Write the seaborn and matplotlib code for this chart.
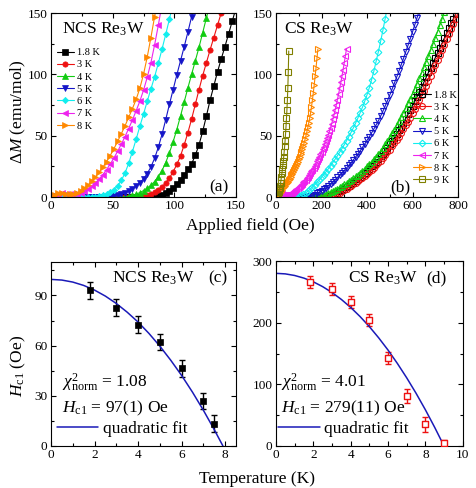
import matplotlib
matplotlib.use("Agg")
import matplotlib.pyplot as plt
import seaborn as sns
from matplotlib.ticker import MultipleLocator

sns.set_style("ticks")
plt.rcParams['font.family'] = ['Liberation Serif', 'DejaVu Serif']
plt.rcParams['mathtext.fontset'] = 'custom'
plt.rcParams['mathtext.rm'] = 'Liberation Serif'
plt.rcParams['mathtext.it'] = 'Liberation Serif:italic'
plt.rcParams['mathtext.bf'] = 'Liberation Serif:bold'
for k in ['text.color', 'axes.labelcolor', 'xtick.color', 'ytick.color', 'axes.edgecolor']:
    plt.rcParams[k] = 'black'

# ---------------- panel (a): NCS Re3W, dM vs H (step 3 Oe) ----------------
H_a = [0, 3, 6, 9, 12, 15, 18, 21, 24, 27, 30, 33, 36, 39, 42, 45, 48, 51, 54, 57,
       60, 63, 66, 69, 72, 75, 78, 81, 84, 87, 90, 93, 96, 99, 102, 105, 108, 111,
       114, 117, 120, 123, 126, 129, 132, 135, 138, 141, 144, 147, 150]
labels_a = ["1.8 K", "3 K", "4 K", "5 K", "6 K", "7 K", "8 K"]
M_a_18 = [0, 0.3, 0.6, 0.5, 0.3, 0.2, 0.1, 0.1,
          0, 0, 0, 0, 0, 0, 0, 0, 0, 0,
          0, 0, 0, 0, 0, 0, 0, 0, 0, 0,
          0.2, 0.8, 1.8, 3.2, 5.0, 7.5, 10.5, 14.0, 18.0, 22.5, 27.0, 34.0, 42.5,
          53.5, 66.0, 79.0, 90.5, 102.0, 112.5, 122.5, 133.0, 143.5, 154.0]
M_a_3 = [0, 0.4, 0.8, 0.7, 0.5, 0.3, 0.2, 0.1,
         0, 0, 0, 0, 0, 0, 0, 0, 0, 0, 0, 0, 0, 0, 0, 0,
         0.2, 0.7, 1.5, 2.7, 4.2, 6.0, 8.3, 11.5, 15.5, 20.5, 26.5, 33.5, 42.5, 52.5,
         63.5, 75.5, 87.5, 99.0, 109.5, 120.0, 130.0, 140.0, 150.0, 160.0]
M_a_4 = [0, 0.5, 1.0, 0.9, 0.6, 0.4, 0.3, 0.2,
         0, 0, 0, 0, 0, 0, 0, 0, 0, 0, 0, 0,
         0.2, 0.6, 1.3, 2.3, 3.6, 5.2, 7.2, 9.6, 12.6, 16.5, 21.5, 28.0, 36.0, 45.0,
         55.0, 66.0, 77.5, 89.0, 100.0, 111.0, 122.0, 134.0, 146.0, 158.0]
M_a_5 = [0, 0.6, 1.2, 1.1, 0.8, 0.5, 0.4, 0.3,
         0.2, 0.2, 0.1, 0.1, 0.1, 0.1, 0.1, 0.1,
         0.2, 0.6, 1.3, 2.3, 3.5, 5.0, 6.8, 8.9, 11.5, 14.8, 19.0, 24.5, 31.5, 40.5,
         51.0, 63.0, 75.5, 87.5, 99.5, 111.0, 122.5, 134.5, 147.0, 159.0]
M_a_6 = [0, 0.8, 1.5, 1.6, 1.3, 1.0, 0.8, 0.6, 0.5, 0.4, 0.3, 0.3,
         0.3, 0.8, 1.5, 2.5, 4.0, 6.0, 9.0, 13.5, 19.5, 27.5, 37.0, 47.0, 57.5,
         67.5, 78.0, 88.0, 98.0, 109.0, 120.5, 132.5, 145.0, 158.0]
M_a_7 = [0, 1.0, 2.5, 3.0, 2.8, 2.4, 2.2, 2.4, 3.2, 4.5, 6.3, 8.6, 11.3, 14.5, 18.2,
         22.3, 26.8, 31.8, 37.2, 43.0, 49.2, 55.8, 62.8, 70.2, 78.0, 87.0, 97.5,
         109.5, 124.0, 140.0, 157.0]
M_a_8 = [0, 1.5, 3.0, 3.2, 2.8, 2.6, 2.8, 3.5, 5.0, 7.2, 9.8, 12.8, 16.2, 20.0, 24.2,
         28.8, 33.8, 39.3, 45.3, 51.5, 58.0, 65.0, 72.0, 79.5, 88.5, 100.0, 114.0,
         130.0, 147.0, 165.0]

# ---------------- panel (b): CS Re3W ----------------
H_b10 = [0, 10, 20, 30, 40, 50, 60, 70, 80, 90, 100, 110, 120, 130, 140, 150, 160,
         170, 180, 190, 200, 210, 220, 230, 240, 250, 260, 270, 280, 290, 300, 310,
         320, 330, 340, 350, 360, 370, 380, 390, 400, 410, 420, 430, 440, 450, 460,
         470, 480, 490, 500, 510, 520, 530, 540, 550, 560, 570, 580, 590, 600, 610,
         620, 630, 640, 650, 660, 670, 680, 690, 700, 710, 720, 730, 740, 750, 760,
         770, 780, 790, 800]
H_b5 = [0, 5, 10, 15, 20, 25, 30, 35, 40, 45, 50, 55, 60, 65, 70, 75, 80, 85, 90, 95,
        100, 105, 110, 115, 120, 125, 130, 135, 140, 145, 150, 155, 160, 165, 170,
        175, 180, 185, 190, 195, 200, 205, 210, 215, 220, 225, 230, 235, 240, 245,
        250, 255, 260, 265, 270, 275, 280, 285, 290, 295, 300, 305, 310]
H_b4 = [0, 4, 8, 12, 16, 20, 24, 28, 32, 36, 40, 44, 48, 52, 56, 60, 64, 68, 72, 76,
        80, 84, 88, 92, 96, 100, 104, 108, 112, 116, 120, 124, 128, 132, 136, 140,
        144, 148, 152, 156, 160, 164, 168, 172, 176, 180, 184]
H_b2 = [0, 2, 4, 6, 8, 10, 12, 14, 16, 18, 20, 22, 24, 26, 28, 30, 32, 34, 36, 38,
        40, 42, 44, 46, 48, 50, 52, 54, 56]
labels_b = ["1.8 K", "3 K", "4 K", "5 K", "6 K", "7 K", "8 K", "9 K"]
M_b_18 = [0, 0, 0, 0, 0, 0, 0, 0, 0, 0, 0, 0, 0, 0, 0, 0, 0, 0, 0, 0, 0, 0,
          0.2, 0.6, 1.2, 1.9, 2.7, 3.6, 4.6, 5.6, 6.7, 7.9,
          9.1, 10.4, 11.8, 13.2, 14.7, 16.2, 17.8, 19.5, 21.2, 23.0,
          24.9, 26.8, 28.8, 30.9, 33.1, 35.4, 37.8, 40.3, 42.9, 45.6,
          48.4, 51.3, 54.3, 57.4, 60.6, 63.9, 67.3, 70.8, 74.4, 78.0,
          81.7, 85.4, 89.4, 93.5, 97.5, 101.5, 105.5, 109.5, 113.5, 117.5,
          121.5, 125.5, 129.5, 133.5, 137.5, 141.5, 145.5, 149.5, 153.5]
M_b_3 = [0, 0, 0, 0, 0, 0, 0, 0, 0, 0, 0, 0, 0, 0, 0, 0, 0, 0, 0, 0, 0, 0, 0,
         0.2, 0.5, 1.1, 1.8, 2.6, 3.5, 4.5, 5.5, 6.6, 7.8,
         9.0, 10.2, 11.5, 12.9, 14.3, 15.8, 17.3, 18.9, 20.5, 22.2,
         24.0, 25.8, 27.7, 29.7, 31.8, 34.0, 36.3, 38.7, 41.2, 43.8,
         46.5, 49.3, 52.2, 55.2, 58.3, 61.5, 64.8, 68.2, 71.7, 75.3,
         79.0, 82.8, 86.7, 90.7, 94.8, 99.0, 103.2, 107.4, 111.6, 115.8,
         120.0, 124.2, 128.4, 132.6, 136.8, 141.0, 145.2, 149.4]
M_b_4 = [0, 0, 0, 0, 0, 0, 0, 0, 0, 0, 0, 0, 0, 0, 0, 0, 0,
         0.2, 0.5, 0.9, 1.4, 2.0, 2.7, 3.4, 4.2, 5.0, 5.9,
         6.9, 7.9, 9.0, 10.2, 11.4, 12.7, 14.0, 15.4, 16.8, 18.3,
         19.9, 21.5, 23.2, 24.9, 26.7, 28.6, 30.6, 32.7, 34.9, 37.3,
         40.0, 42.8, 45.7, 48.7, 51.8, 55.0, 58.3, 61.7, 65.2, 68.8,
         72.5, 76.3, 80.2, 84.2, 88.3, 92.5, 96.8, 101.2, 105.7, 110.3,
         115.0, 119.8, 124.7, 129.7, 134.8, 140.0, 145.3, 150.7, 156.0]
M_b_5 = [0, 0, 0, 0, 0, 0, 0, 0, 0, 0, 0, 0, 0, 0,
         0.2, 0.6, 1.2, 2.0, 2.9, 3.9, 5.0, 6.3, 7.7, 9.2,
         10.8, 12.4, 14.1, 15.9, 17.7, 19.6, 21.6, 23.6, 25.7, 27.9,
         30.2, 32.6, 35.1, 37.7, 40.4, 43.2, 46.1, 49.1, 52.2, 55.4,
         58.7, 62.1, 66.0, 70.0, 74.2, 78.6, 83.1, 87.8, 92.6, 97.5,
         102.5, 107.6, 112.8, 118.1, 123.5, 129.0, 134.6, 140.3, 146.1, 152.0]
M_b_6 = [0, 0, 0, 0, 0, 0, 0, 0, 0,
         0.2, 0.6, 1.3, 2.2, 3.3, 4.7, 6.3, 8.1, 10.0, 12.0,
         14.0, 16.1, 18.3, 20.6, 23.0, 25.5, 28.1, 30.8, 33.6, 36.5,
         39.5, 42.6, 45.8, 49.2, 52.7, 56.4, 60.3, 64.4, 68.7, 73.2,
         78.0, 83.2, 89.0, 95.5, 102.5, 110.5, 118.5, 127.0, 136.0, 145.5,
         155.5]
M_b_7 = [0, 1.0, 2.0, 2.5, 2.5, 2.2, 1.8, 1.5, 1.4, 1.5,
         1.7, 2.0, 2.4, 2.9, 3.4, 4.0, 4.7, 5.4, 6.2, 7.0,
         7.9, 8.8, 9.8, 10.8, 11.9, 13.0, 14.2, 15.4, 16.7, 18.0,
         19.4, 20.9, 22.4, 24.0, 25.6, 27.3, 29.1, 30.9, 32.8, 34.8,
         36.8, 38.9, 41.1, 43.4, 45.7, 48.1, 50.6, 53.5, 56.6, 59.9,
         63.4, 67.1, 71.0, 75.1, 79.4, 83.9, 88.6, 93.5, 98.6, 103.9,
         109.4, 115.1, 121.0]
M_b_8 = [0, 1.0, 2.0, 2.8, 3.5, 4.3, 5.1, 6.0, 7.0, 8.0,
         9.1, 10.2, 11.3, 12.5, 13.7, 15.0, 16.3, 17.7, 19.1, 20.6,
         22.1, 23.7, 25.3, 27.0, 28.8, 30.7, 32.7, 34.8, 37.0, 39.3,
         41.8, 44.4, 47.2, 50.2, 53.4, 56.8, 60.5, 64.4, 68.6, 73.5,
         79.0, 85.0, 91.5, 98.5, 105.5, 113.0, 120.5]
M_b_9 = [0, 0.4, 0.9, 1.4, 2.0, 2.8, 3.9, 5.3, 7.0, 9.0,
         11.3, 13.8, 16.5, 19.4, 22.5, 25.8, 29.3, 33.0, 37.0, 41.3,
         46.0, 51.5, 57.5, 64.0, 71.0, 79.0, 89.0, 102.0, 119.0]

# ---------------- panel (c): NCS Hc1(T) ----------------
T_c = [1.8, 3, 4, 5, 6, 7, 7.5]
Hc1_c = [93.0, 82.7, 72.5, 62.2, 46.4, 26.9, 13.3]
err_c = [5, 5, 5, 5, 5, 5, 5]
fitT_c = [0, 0.5, 1, 1.5, 2, 2.5, 3, 3.5, 4, 4.5, 5, 5.5, 6, 6.5, 7, 7.5, 7.9]
fitH_c = [99.6, 99.2, 98.0, 96.0, 93.2, 89.6, 85.2, 80.0, 74.1, 67.3, 59.7, 51.3,
          42.2, 32.2, 21.4, 9.8, 0.0]

# ---------------- panel (d): CS Hc1(T) ----------------
T_d = [1.8, 3, 4, 5, 6, 7, 8, 9]
Hc1_d = [266.4, 254.5, 233.9, 204.1, 142.9, 81.2, 35.2, 5.4]
err_d = [10, 10, 10, 10, 10, 12, 12, 5]
fitT_d = [0, 0.5, 1, 1.5, 2, 2.5, 3, 3.5, 4, 4.5, 5, 5.5, 6, 6.5, 7, 7.5, 8, 8.5, 9]
fitH_d = [280.0, 279.1, 276.5, 272.2, 266.2, 258.4, 248.9, 237.7, 224.7, 210.0,
          193.6, 175.4, 155.6, 133.9, 110.6, 85.6, 58.8, 30.2, 0.0]

# ---------------- styling ----------------
RED = "#EE1111"; GREEN = "#11CC11"; BLUE = "#1515C8"; CYAN = "#11EEEE"
MAG = "#EE22EE"; ORANGE = "#FF8800"; OLIVE = "#808000"; FITBLUE = "#1a1ab8"
colors_a = ["black", RED, GREEN, BLUE, CYAN, MAG, ORANGE]
markers_a = ["s", "o", "^", "v", "D", "<", ">"]
colors_b = ["black", RED, GREEN, BLUE, CYAN, MAG, ORANGE, OLIVE]
markers_b = ["s", "o", "^", "v", "D", "<", ">", "s"]

W, Hpx = 476, 488
fig = plt.figure(figsize=(W / 100, Hpx / 100), dpi=100)

def add_ax(l, r, t, b):
    return fig.add_axes([l / W, 1 - b / Hpx, (r - l) / W, (b - t) / Hpx])

axA = add_ax(51, 236, 13, 197)
axB = add_ax(276, 458, 13, 197)
axC = add_ax(51, 236, 262, 446)
axD = add_ax(276, 462.7, 261, 446)

FS_TICK = 9.5
FS_TXT = 12.5

# (a)
Ms_a = [M_a_18, M_a_3, M_a_4, M_a_5, M_a_6, M_a_7, M_a_8]
for lab, M, c, m in zip(labels_a, Ms_a, colors_a, markers_a):
    ms = 3.2 if m == "D" else 3.8
    sns.lineplot(x=H_a[:len(M)], y=M, ax=axA, color=c, marker=m, markersize=ms,
                 mec=c, mfc=c, mew=0.5, lw=0.8, label=lab)
axA.set_xlim(0, 150); axA.set_ylim(0, 150)
axA.xaxis.set_major_locator(MultipleLocator(50)); axA.xaxis.set_minor_locator(MultipleLocator(25))
axA.yaxis.set_major_locator(MultipleLocator(50)); axA.yaxis.set_minor_locator(MultipleLocator(25))
axA.legend(loc="upper left", bbox_to_anchor=(0.03, 0.81), frameon=False, fontsize=7.5,
           handlelength=1.7, handletextpad=0.25, labelspacing=0.28, borderpad=0,
           borderaxespad=0)
axA.text(0.059, 0.913, "NCS Re$_3$W", transform=axA.transAxes, fontsize=FS_TXT,
         ha="left", va="center")
axA.text(0.855, 0.05, "(a)", transform=axA.transAxes, fontsize=FS_TXT, ha="left", va="center")

# (b)
Ms_b = [M_b_18, M_b_3, M_b_4, M_b_5, M_b_6, M_b_7, M_b_8, M_b_9]
grids_b = [H_b10, H_b10, H_b10, H_b10, H_b10, H_b5, H_b4, H_b2]
for lab, G, M, c, m in zip(labels_b, grids_b, Ms_b, colors_b, markers_b):
    ms = 3.4 if m == "D" else 4.2
    sns.lineplot(x=G[:len(M)], y=M, ax=axB, color=c, marker=m, markersize=ms,
                 mec=c, mfc="none", mew=0.8, lw=0.8, label=lab)
axB.set_xlim(0, 800); axB.set_ylim(0, 150)
axB.xaxis.set_major_locator(MultipleLocator(200)); axB.xaxis.set_minor_locator(MultipleLocator(100))
axB.yaxis.set_major_locator(MultipleLocator(50)); axB.yaxis.set_minor_locator(MultipleLocator(25))
axB.legend(loc="upper left", bbox_to_anchor=(0.755, 0.58), frameon=False, fontsize=7.5,
           handlelength=1.7, handletextpad=0.25, labelspacing=0.28, borderpad=0,
           borderaxespad=0)
axB.text(0.044, 0.913, "CS Re$_3$W", transform=axB.transAxes, fontsize=FS_TXT,
         ha="left", va="center")
axB.text(0.626, 0.05, "(b)", transform=axB.transAxes, fontsize=FS_TXT, ha="left", va="center")

# (c)
axC.errorbar(T_c, Hc1_c, yerr=err_c, fmt="none", ecolor="black", elinewidth=1,
             capsize=2, capthick=1, zorder=2)
sns.scatterplot(x=T_c, y=Hc1_c, ax=axC, marker="s", s=20, color="black",
                edgecolor="black", linewidth=0.5, zorder=3)
sns.lineplot(x=fitT_c, y=fitH_c, ax=axC, color=FITBLUE, lw=1.1, label="quadratic fit")
axC.set_xlim(0, 8.5); axC.set_ylim(0, 110)
axC.xaxis.set_major_locator(MultipleLocator(2)); axC.xaxis.set_minor_locator(MultipleLocator(1))
axC.yaxis.set_major_locator(MultipleLocator(30)); axC.yaxis.set_minor_locator(MultipleLocator(15))
axC.legend(loc="center left", bbox_to_anchor=(0.03, 0.092), frameon=False, fontsize=FS_TXT,
           handlelength=2.4, handletextpad=0.25, borderpad=0, borderaxespad=0)
axC.text(0.33, 0.913, "NCS Re$_3$W", transform=axC.transAxes, fontsize=FS_TXT,
         ha="left", va="center")
axC.text(0.849, 0.913, "(c)", transform=axC.transAxes, fontsize=FS_TXT, ha="left", va="center")
axC.text(0.059, 0.35, r"$\chi^{2}_{\mathrm{norm}}$ = 1.08", transform=axC.transAxes,
         fontsize=FS_TXT, ha="left", va="center")
axC.text(0.059, 0.207, r"$H_{\mathrm{c1}}$ = 97(1) Oe", transform=axC.transAxes,
         fontsize=FS_TXT, ha="left", va="center")

# (d)
axD.errorbar(T_d, Hc1_d, yerr=err_d, fmt="none", ecolor=RED, elinewidth=1,
             capsize=2, capthick=1, zorder=2)
sns.scatterplot(x=T_d, y=Hc1_d, ax=axD, marker="s", s=22, facecolor="white",
                edgecolor=RED, linewidth=1, zorder=3)
sns.lineplot(x=fitT_d, y=fitH_d, ax=axD, color=FITBLUE, lw=1.1, label="quadratic fit")
axD.set_xlim(0, 10); axD.set_ylim(0, 300)
axD.xaxis.set_major_locator(MultipleLocator(2)); axD.xaxis.set_minor_locator(MultipleLocator(1))
axD.yaxis.set_major_locator(MultipleLocator(100)); axD.yaxis.set_minor_locator(MultipleLocator(50))
axD.legend(loc="center left", bbox_to_anchor=(0.01, 0.092), frameon=False, fontsize=FS_TXT,
           handlelength=2.4, handletextpad=0.25, borderpad=0, borderaxespad=0)
axD.text(0.386, 0.908, "CS Re$_3$W", transform=axD.transAxes, fontsize=FS_TXT,
         ha="left", va="center")
axD.text(0.803, 0.908, "(d)", transform=axD.transAxes, fontsize=FS_TXT, ha="left", va="center")
axD.text(0.027, 0.346, r"$\chi^{2}_{\mathrm{norm}}$ = 4.01", transform=axD.transAxes,
         fontsize=FS_TXT, ha="left", va="center")
axD.text(0.027, 0.205, r"$H_{\mathrm{c1}}$ = 279(11) Oe", transform=axD.transAxes,
         fontsize=FS_TXT, ha="left", va="center")

for ax in (axA, axB, axC, axD):
    ax.set_xlabel(""); ax.set_ylabel("")
    ax.tick_params(which="both", direction="in", top=True, right=True,
                   labelsize=FS_TICK, width=0.8, pad=2.5, color="black")
    ax.tick_params(which="major", length=3.5)
    ax.tick_params(which="minor", length=2)
    for s in ax.spines.values():
        s.set_linewidth(0.8); s.set_color("black"); s.set_visible(True)

fig.text(18 / W, 1 - 112 / Hpx, r"$\Delta M$ (emu/mol)", rotation=90, ha="center",
         va="center", fontsize=12.5)
fig.text(18 / W, 1 - 366 / Hpx, r"$H_{\mathrm{c1}}$ (Oe)", rotation=90, ha="center",
         va="center", fontsize=12.5)
fig.text(250 / W, 1 - 226 / Hpx, "Applied field (Oe)", ha="center", va="center", fontsize=12.5)
fig.text(257 / W, 1 - 479 / Hpx, "Temperature (K)", ha="center", va="center", fontsize=12.5)

fig.savefig("out.png", dpi=100)
